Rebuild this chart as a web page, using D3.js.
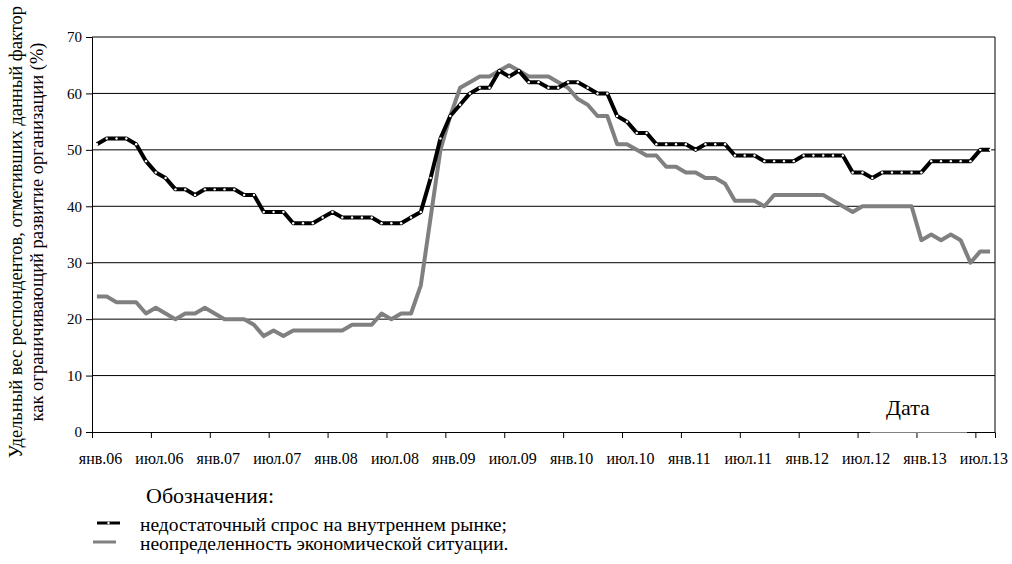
<!DOCTYPE html>
<html lang="ru">
<head>
<meta charset="utf-8">
<title>Спрос и неопределенность</title>
<script src="https://d3js.org/d3.v7.min.js"></script>
<style>
  body { margin: 0; background: #fff; }
  svg text { font-family: "Liberation Serif", "Times New Roman", Times, "DejaVu Serif", serif !important; fill: #000; }
</style>
</head>
<body>
<div id="main"></div>
<script>
// monthly values, Jan 2006 .. Aug 2013
const demand = [
  51, 52, 52, 52, 51, 48, 46, 45, 43, 43, 42, 43,
  43, 43, 43, 42, 42, 39, 39, 39, 37, 37, 37, 38,
  39, 38, 38, 38, 38, 37, 37, 37, 38, 39, 45, 52,
  56, 58, 60, 61, 61, 64, 63, 64, 62, 62, 61, 61,
  62, 62, 61, 60, 60, 56, 55, 53, 53, 51, 51, 51,
  51, 50, 51, 51, 51, 49, 49, 49, 48, 48, 48, 48,
  49, 49, 49, 49, 49, 46, 46, 45, 46, 46, 46, 46,
  46, 48, 48, 48, 48, 48, 50, 50
];
const uncertainty = [
  24, 24, 23, 23, 23, 21, 22, 21, 20, 21, 21, 22,
  21, 20, 20, 20, 19, 17, 18, 17, 18, 18, 18, 18,
  18, 18, 19, 19, 19, 21, 20, 21, 21, 26, 38, 50,
  56, 61, 62, 63, 63, 64, 65, 64, 63, 63, 63, 62,
  61, 59, 58, 56, 56, 51, 51, 50, 49, 49, 47, 47,
  46, 46, 45, 45, 44, 41, 41, 41, 40, 42, 42, 42,
  42, 42, 42, 41, 40, 39, 40, 40, 40, 40, 40, 40,
  34, 35, 34, 35, 34, 30, 32, 32
];
const tickLabels = ['янв.06', 'июл.06', 'янв.07', 'июл.07', 'янв.08', 'июл.08', 'янв.09', 'июл.09',
  'янв.10', 'июл.10', 'янв.11', 'июл.11', 'янв.12', 'июл.12', 'янв.13', 'июл.13'];
const yTicks = [0, 10, 20, 30, 40, 50, 60, 70];
const legendNames = ['недостаточный спрос на внутреннем рынке;', 'неопределенность экономической ситуации.'];

const serif = '"Liberation Serif", "Times New Roman", serif';
const width = 1012, height = 564;
const plotLeft = 92, plotRight = 995, plotTop = 37, plotBottom = 432;

const svg = d3.select('#main').append('svg')
  .attr('width', width)
  .attr('height', height)
  .style('font-family', serif);

const x = d3.scaleLinear().domain([0, demand.length]).range([plotLeft, plotRight]);
const y = d3.scaleLinear().domain([0, 70]).range([plotBottom, plotTop]);

// grid
svg.append('g').selectAll('line')
  .data(yTicks.filter(t => t > 0))
  .join('line')
  .attr('x1', plotLeft).attr('x2', plotRight)
  .attr('y1', d => y(d)).attr('y2', d => y(d))
  .attr('stroke', '#000').attr('stroke-width', 1);

svg.append('line')
  .attr('x1', plotRight).attr('x2', plotRight)
  .attr('y1', plotTop).attr('y2', plotBottom)
  .attr('stroke', '#000');

// y axis
const yAxis = d3.axisLeft(y).tickValues(yTicks).tickSize(6).tickPadding(4);
const gy = svg.append('g')
  .attr('transform', `translate(${plotLeft},0)`)
  .call(yAxis)
  .attr('font-family', serif)
  .attr('font-size', 15);
gy.selectAll('line, path').attr('stroke', '#000');

// x axis
const xAxis = d3.axisBottom(x)
  .tickValues(d3.range(0, demand.length, 6))
  .tickSize(6)
  .tickFormat((d, i) => tickLabels[i]);
const gx = svg.append('g')
  .attr('transform', `translate(0,${plotBottom})`)
  .call(xAxis)
  .attr('font-family', serif)
  .attr('font-size', 16);
gx.select('.domain').attr('stroke', '#000');
gx.selectAll('.tick line').attr('stroke', '#000');
gx.selectAll('.tick text')
  .attr('dx', 8)
  .attr('y', 21);

// lines
const line = d3.line().x((d, i) => x(i + 0.5)).y(d => y(d));

svg.append('path')
  .datum(uncertainty)
  .attr('d', line)
  .attr('fill', 'none')
  .attr('stroke', '#808080')
  .attr('stroke-width', 4)
  .attr('stroke-linejoin', 'round');

svg.append('path')
  .datum(demand)
  .attr('d', line)
  .attr('fill', 'none')
  .attr('stroke', '#000')
  .attr('stroke-width', 4)
  .attr('stroke-linejoin', 'round');

svg.append('g').selectAll('circle')
  .data(demand)
  .join('circle')
  .attr('cx', (d, i) => x(i + 0.5))
  .attr('cy', d => y(d))
  .attr('r', 1.2)
  .attr('fill', '#fff');

// "Дата" label box
svg.append('rect')
  .attr('x', 870).attr('y', 392)
  .attr('width', 97).attr('height', 40.5)
  .attr('fill', '#fff');
svg.append('text')
  .attr('x', 886).attr('y', 415)
  .attr('font-size', 22)
  .text('Дата');

// y title
const yTitle = svg.append('text')
  .attr('transform', 'translate(22,232) rotate(-90)')
  .attr('text-anchor', 'middle')
  .attr('font-size', 18.5);
yTitle.append('tspan').attr('x', 0).attr('dy', 0)
  .text('Удельный вес респондентов, отметивших данный фактор');
yTitle.append('tspan').attr('x', 0).attr('dy', 21)
  .text('как ограничивающий развитие организации (%)');

// legend
svg.append('text')
  .attr('x', 146).attr('y', 503)
  .attr('font-size', 22)
  .text('Обозначения:');

const legendColors = ['#000', '#808080'];
legendNames.forEach((name, i) => {
  const ly = 523 + i * 19;
  svg.append('line')
    .attr('x1', i === 0 ? 97 : 93).attr('x2', i === 0 ? 120 : 116)
    .attr('y1', ly).attr('y2', ly)
    .attr('stroke', legendColors[i])
    .attr('stroke-width', 3);
  if (i === 0) {
    svg.append('circle')
      .attr('cx', 108.5).attr('cy', ly).attr('r', 1.2).attr('fill', '#fff');
  }
  svg.append('text')
    .attr('x', 140).attr('y', ly + 8)
    .attr('font-size', 19.5)
    .text(name);
});
</script>
</body>
</html>
